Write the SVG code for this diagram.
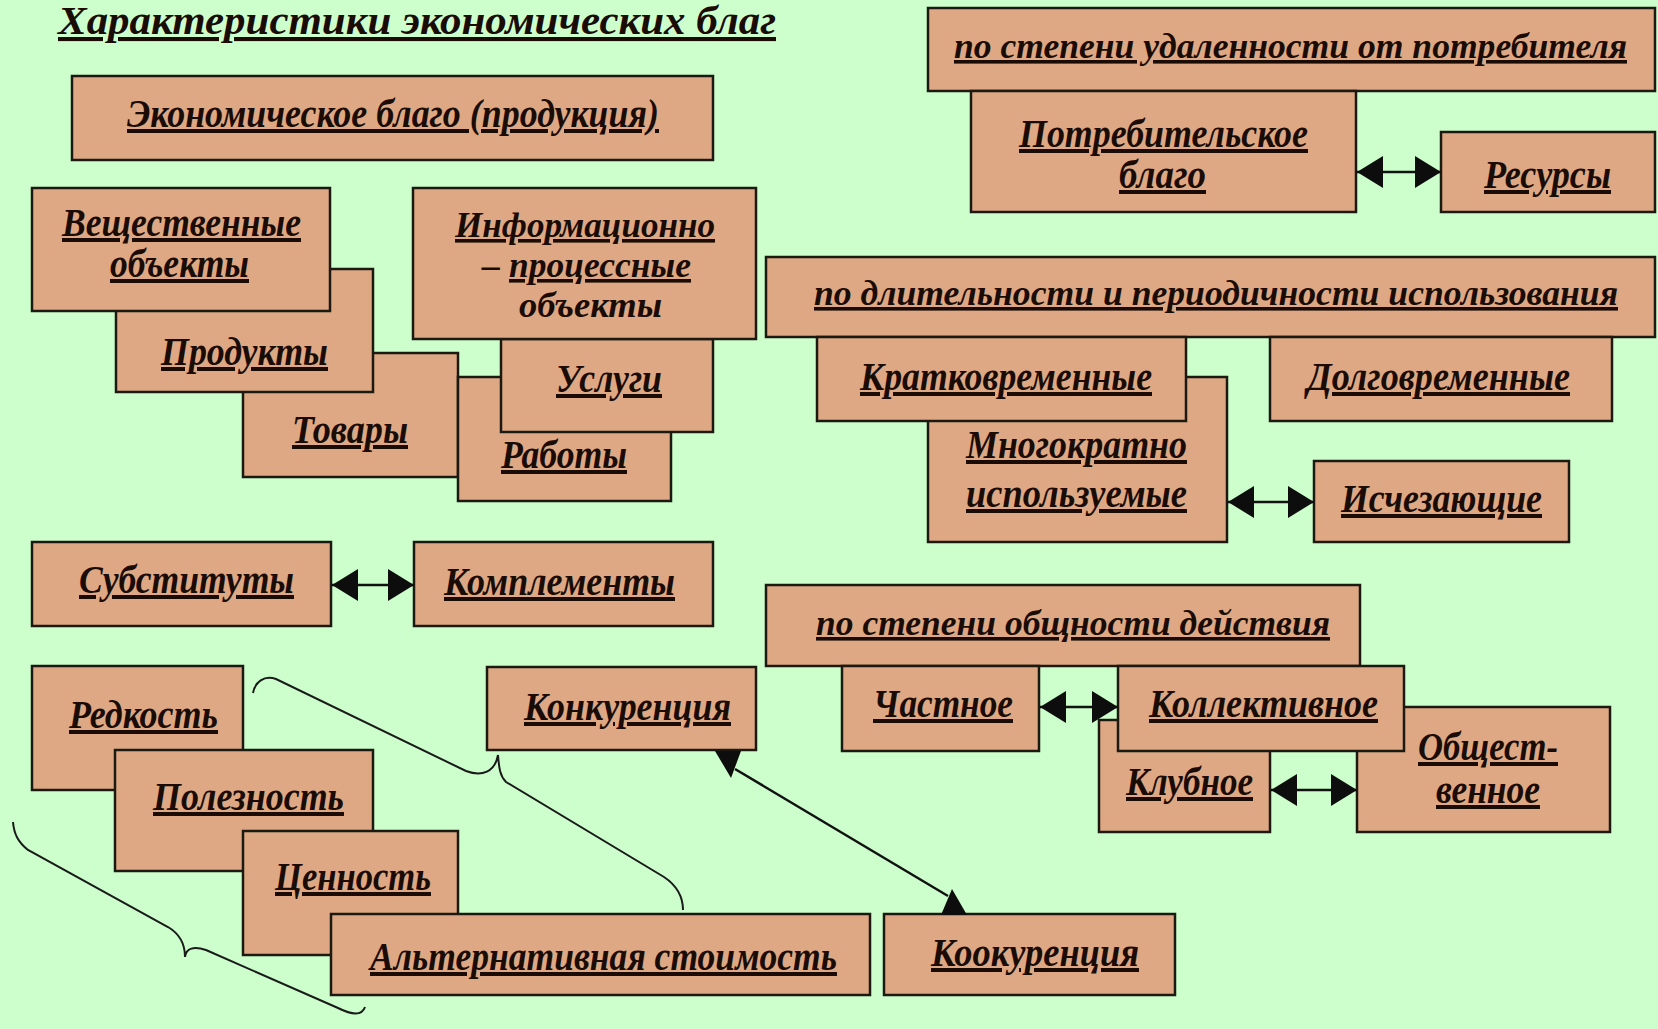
<svg xmlns="http://www.w3.org/2000/svg" width="1658" height="1029" viewBox="0 0 1658 1029">
<style>
.box{fill:#DDA883;stroke:#1c1812;stroke-width:2.5}
.t{font-family:"Liberation Serif","DejaVu Serif",serif;font-style:italic;font-weight:bold;font-size:40px;fill:#1a0c04;text-decoration:underline}
.s{font-size:36px}
.m{font-size:36px}
.nu{text-decoration:none}
.ttl{font-size:41px}
.ln{stroke:#111;stroke-width:2.5;fill:none}
.br{stroke:#1a1a1a;stroke-width:2;fill:none}
</style>
<defs>
<marker id="ah" markerUnits="userSpaceOnUse" markerWidth="30" markerHeight="34" viewBox="0 -17 28 34" refX="26" refY="0" orient="auto-start-reverse">
<path d="M0,-16 L26,0 L0,16 Z" fill="#0d0d0d"/>
</marker>
</defs>
<rect width="1658" height="1029" fill="#CCFFCC"/>
<text class="t ttl" x="58" y="34" textLength="718" lengthAdjust="spacingAndGlyphs">Характеристики экономических благ</text>
<g id="nodes">
<g id="n-econ"><rect class="box" x="72" y="76" width="641" height="84"/><text class="t" x="127" y="127" textLength="532" lengthAdjust="spacingAndGlyphs">Экономическое благо (продукция)</text></g>
<g id="n-tovary"><rect class="box" x="243" y="353" width="215" height="124"/><text class="t" x="292" y="443" textLength="116" lengthAdjust="spacingAndGlyphs">Товары</text></g>
<g id="n-produkty"><rect class="box" x="116" y="269" width="257" height="123"/><text class="t" x="161" y="365" textLength="167" lengthAdjust="spacingAndGlyphs">Продукты</text></g>
<g id="n-vesch"><rect class="box" x="32" y="188" width="298" height="123"/><text class="t" x="62" y="236" textLength="239" lengthAdjust="spacingAndGlyphs">Вещественные</text><text class="t" x="110" y="277" textLength="139" lengthAdjust="spacingAndGlyphs">объекты</text></g>
<g id="n-raboty"><rect class="box" x="458" y="377" width="213" height="124"/><text class="t" x="501" y="468" textLength="126" lengthAdjust="spacingAndGlyphs">Работы</text></g>
<g id="n-uslugi"><rect class="box" x="501" y="339" width="212" height="93"/><text class="t" x="556" y="392" textLength="106" lengthAdjust="spacingAndGlyphs">Услуги</text></g>
<g id="n-info"><rect class="box" x="413" y="188" width="343" height="151"/><text class="t m" x="455" y="237" textLength="260" lengthAdjust="spacingAndGlyphs">Информационно</text><text class="t m nu" x="482" y="277">–</text><text class="t m" x="509" y="277" textLength="182" lengthAdjust="spacingAndGlyphs">процессные</text><text class="t m nu" x="519" y="317" textLength="143" lengthAdjust="spacingAndGlyphs">объекты</text></g>
<g id="n-subst"><rect class="box" x="32" y="542" width="299" height="84"/><text class="t" x="79" y="593" textLength="215" lengthAdjust="spacingAndGlyphs">Субституты</text></g>
<g id="n-kompl"><rect class="box" x="414" y="542" width="299" height="84"/><text class="t" x="444" y="595" textLength="231" lengthAdjust="spacingAndGlyphs">Комплементы</text></g>
<g id="n-redk"><rect class="box" x="32" y="666" width="211" height="124"/><text class="t" x="69" y="728" textLength="149" lengthAdjust="spacingAndGlyphs">Редкость</text></g>
<g id="n-polez"><rect class="box" x="115" y="750" width="258" height="121"/><text class="t" x="153" y="810" textLength="191" lengthAdjust="spacingAndGlyphs">Полезность</text></g>
<g id="n-tsen"><rect class="box" x="243" y="831" width="215" height="124"/><text class="t" x="275" y="890" textLength="156" lengthAdjust="spacingAndGlyphs">Ценность</text></g>
<g id="n-alt"><rect class="box" x="331" y="914" width="539" height="81"/><text class="t" x="370" y="970" textLength="467" lengthAdjust="spacingAndGlyphs">Альтернативная стоимость</text></g>
<g id="n-konk"><rect class="box" x="487" y="667" width="269" height="83"/><text class="t" x="524" y="720" textLength="207" lengthAdjust="spacingAndGlyphs">Конкуренция</text></g>
<g id="n-kook"><rect class="box" x="884" y="914" width="291" height="81"/><text class="t" x="931" y="966" textLength="208" lengthAdjust="spacingAndGlyphs">Коокуренция</text></g>
<g id="n-sec1"><rect class="box" x="928" y="8" width="727" height="83"/><text class="t s" x="954" y="58" textLength="673" lengthAdjust="spacingAndGlyphs">по степени удаленности от потребителя</text></g>
<g id="n-potr"><rect class="box" x="971" y="91" width="385" height="121"/><text class="t" x="1019" y="147" textLength="289" lengthAdjust="spacingAndGlyphs">Потребительское</text><text class="t" x="1119" y="188" textLength="87" lengthAdjust="spacingAndGlyphs">благо</text></g>
<g id="n-res"><rect class="box" x="1441" y="132" width="214" height="80"/><text class="t" x="1484" y="188" textLength="127" lengthAdjust="spacingAndGlyphs">Ресурсы</text></g>
<g id="n-sec2"><rect class="box" x="766" y="257" width="889" height="80"/><text class="t s" x="814" y="305" textLength="804" lengthAdjust="spacingAndGlyphs">по длительности и периодичности использования</text></g>
<g id="n-mnog"><rect class="box" x="928" y="377" width="299" height="165"/><text class="t" x="966" y="458" textLength="221" lengthAdjust="spacingAndGlyphs">Многократно</text><text class="t" x="966" y="507" textLength="221" lengthAdjust="spacingAndGlyphs">используемые</text></g>
<g id="n-krat"><rect class="box" x="817" y="337" width="369" height="84"/><text class="t" x="860" y="390" textLength="292" lengthAdjust="spacingAndGlyphs">Кратковременные</text></g>
<g id="n-dolg"><rect class="box" x="1270" y="337" width="342" height="84"/><text class="t" x="1307" y="390" textLength="263" lengthAdjust="spacingAndGlyphs">Долговременные</text></g>
<g id="n-ischez"><rect class="box" x="1314" y="461" width="255" height="81"/><text class="t" x="1341" y="512" textLength="201" lengthAdjust="spacingAndGlyphs">Исчезающие</text></g>
<g id="n-sec3"><rect class="box" x="766" y="585" width="594" height="81"/><text class="t s" x="816" y="635" textLength="514" lengthAdjust="spacingAndGlyphs">по степени общности действия</text></g>
<g id="n-chast"><rect class="box" x="842" y="666" width="197" height="85"/><text class="t" x="873" y="717" textLength="140" lengthAdjust="spacingAndGlyphs">Частное</text></g>
<g id="n-klub"><rect class="box" x="1099" y="720" width="171" height="112"/><text class="t" x="1126" y="795" textLength="127" lengthAdjust="spacingAndGlyphs">Клубное</text></g>
<g id="n-obsh"><rect class="box" x="1357" y="707" width="253" height="125"/><text class="t" x="1418" y="760" textLength="140" lengthAdjust="spacingAndGlyphs">Общест-</text><text class="t" x="1436" y="803" textLength="104" lengthAdjust="spacingAndGlyphs">венное</text></g>
<g id="n-koll"><rect class="box" x="1118" y="666" width="286" height="85"/><text class="t" x="1149" y="717" textLength="229" lengthAdjust="spacingAndGlyphs">Коллективное</text></g>
</g>
<g id="braces">
<path class="br" d="M253,693 C255,682 264,675 276,679 L466,771 C482,777 495,772 498,755 C499,768 500,776 506,782 L664,877 C676,885 683,896 683,910"/>
<path class="br" d="M13,822 C14,834 18,842 28,850 L168,927 C180,934 185,944 185,957 C186,948 194,946 206,950 L338,1008 C352,1015 362,1016 365,1007"/>
</g>
<g id="connectors">
<line class="ln" x1="1357" y1="172" x2="1441" y2="172" marker-start="url(#ah)" marker-end="url(#ah)"/>
<line class="ln" x1="332" y1="585" x2="414" y2="585" marker-start="url(#ah)" marker-end="url(#ah)"/>
<line class="ln" x1="1228" y1="502" x2="1314" y2="502" marker-start="url(#ah)" marker-end="url(#ah)"/>
<line class="ln" x1="1040" y1="707" x2="1118" y2="707" marker-start="url(#ah)" marker-end="url(#ah)"/>
<line class="ln" x1="1271" y1="790" x2="1357" y2="790" marker-start="url(#ah)" marker-end="url(#ah)"/>
<line class="ln" x1="735" y1="769" x2="948" y2="896"/>
<polygon points="715,751 741,751 731,778" fill="#0d0d0d"/>
<polygon points="952,889 941,915 967,915" fill="#0d0d0d"/>
</g>
</svg>
